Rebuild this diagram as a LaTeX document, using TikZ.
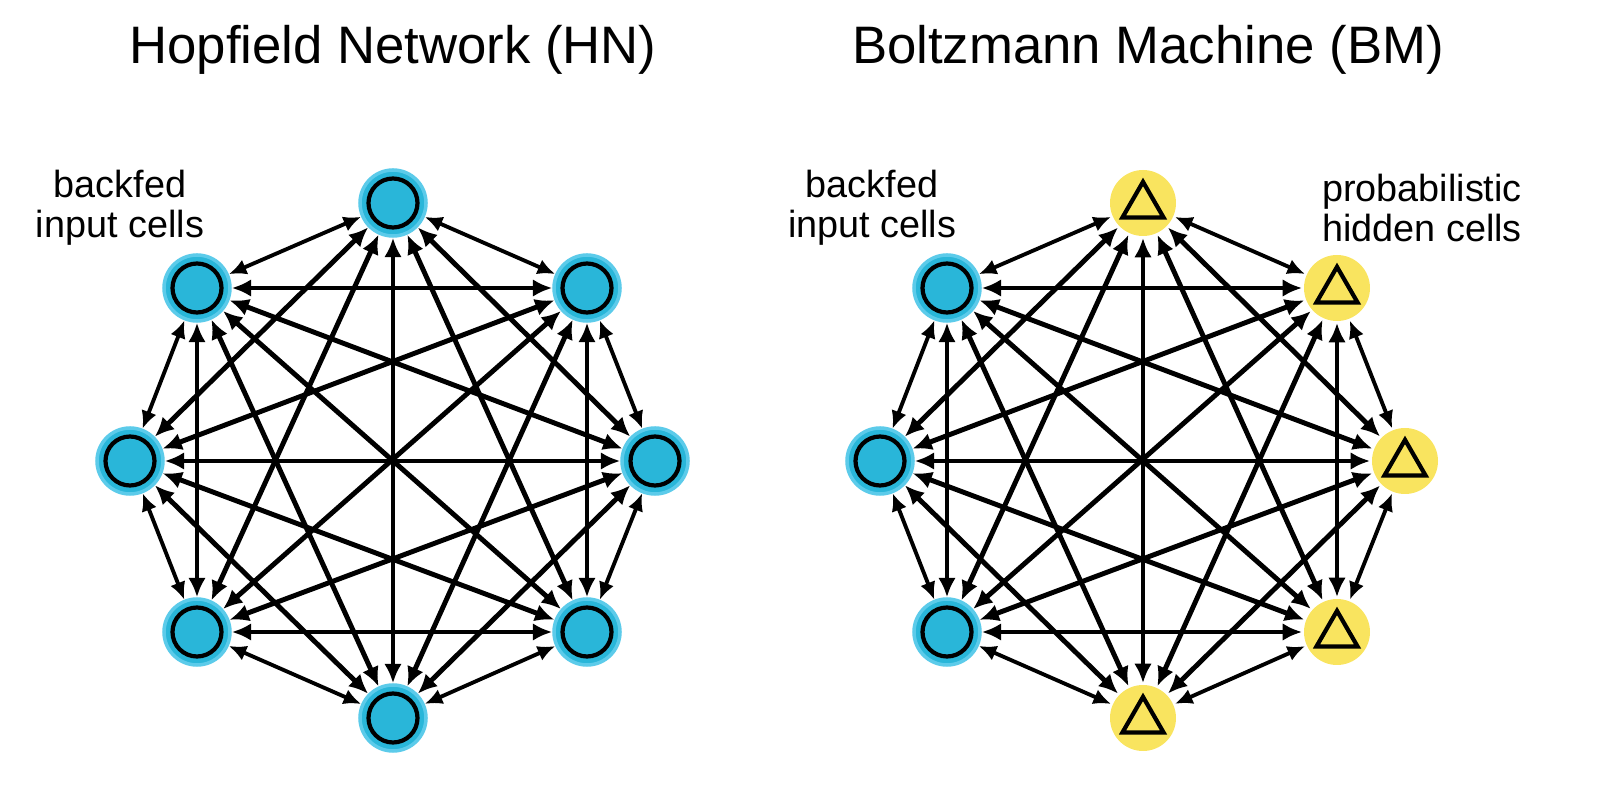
\documentclass[tikz,border=0pt]{standalone}
\usepackage{fontspec}
\setmainfont{Liberation Sans}
\usetikzlibrary{arrows.meta,shapes.geometric}
\definecolor{cellblue}{HTML}{29B6D9}
\definecolor{cellring}{HTML}{5CCBEA}
\definecolor{cellyellow}{HTML}{F9E45F}
\begin{document}
\begin{tikzpicture}[line width=2.2pt,
    link/.style={line width=2.8pt,{Latex[length=11pt,width=10pt]}-{Latex[length=11pt,width=10pt]}},
    ring link/.style={line width=2.2pt,{Latex[length=10pt,width=9pt]}-{Latex[length=10pt,width=9pt]}},
    blue node/.style={circle,fill=cellblue,draw=cellring,line width=2pt,minimum size=1.32cm,inner sep=0pt,
      path picture={\draw[black,line width=2.4pt] (path picture bounding box.center) circle (0.49cm);}},
    yellow node/.style={circle,fill=cellyellow,minimum size=1.32cm,inner sep=0pt,
      path picture={\node[regular polygon,regular polygon sides=3,draw=black,line width=2.4pt,minimum size=0.95cm,inner sep=0pt] at ([yshift=-1.5pt]path picture bounding box.center) {};}},
    label text/.style={font=\fontsize{21.5}{23}\selectfont,align=center},
    title text/.style={font=\fontsize{30}{33}\selectfont}]
  \useasboundingbox (0,0) rectangle (32,16.1);

  \node[title text] at (7.86,15.1) {Hopfield Network (HN)};
  \node[title text] at (22.96,15.1) {Boltzmann Machine (BM)};

  % Hopfield network
  \node[blue node] (h1) at (7.86,12.04) {};
  \node[blue node] (h2) at (11.74,10.34) {};
  \node[blue node] (h3) at (13.1,6.88) {};
  \node[blue node] (h4) at (11.74,3.46) {};
  \node[blue node] (h5) at (7.86,1.74) {};
  \node[blue node] (h6) at (3.94,3.46) {};
  \node[blue node] (h7) at (2.6,6.88) {};
  \node[blue node] (h8) at (3.94,10.34) {};

  % Boltzmann machine
  \node[yellow node] (b1) at (22.86,12.04) {};
  \node[yellow node] (b2) at (26.74,10.34) {};
  \node[yellow node] (b3) at (28.1,6.88) {};
  \node[yellow node] (b4) at (26.74,3.46) {};
  \node[yellow node] (b5) at (22.86,1.74) {};
  \node[blue node] (b6) at (18.94,3.46) {};
  \node[blue node] (b7) at (17.6,6.88) {};
  \node[blue node] (b8) at (18.94,10.34) {};

  \node[label text] at (2.4,11.94) {backfed\\input cells};
  \node[label text] at (17.44,11.94) {backfed\\input cells};
  \node[label text] at (28.44,11.94) {probabilistic\\hidden cells};

  \foreach \net in {h,b}{
    % chords
    \foreach \i in {1,...,6}{
      \pgfmathtruncatemacro{\first}{\i+2}
      \foreach \j in {\first,...,8}{
        \ifnum\i=1 \ifnum\j=8 \else \draw[link] (\net\i) -- (\net\j); \fi
        \else \draw[link] (\net\i) -- (\net\j); \fi
      }
    }
    % outer ring
    \foreach \i/\j in {1/2,2/3,3/4,4/5,5/6,6/7,7/8,8/1}
      \draw[ring link] (\net\i) -- (\net\j);
  }
\end{tikzpicture}
\end{document}
